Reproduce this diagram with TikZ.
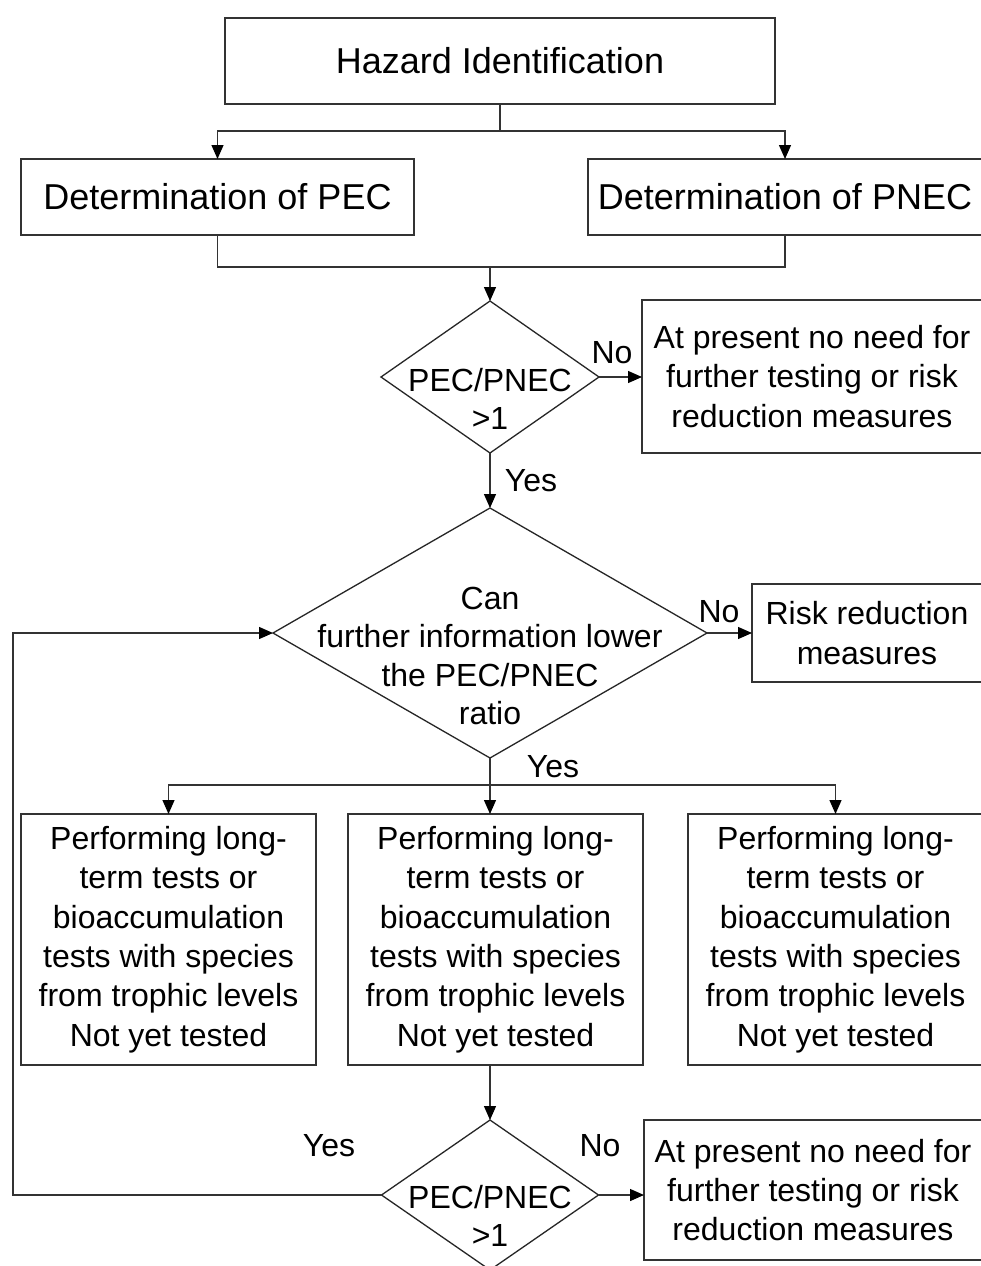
\documentclass[tikz,border=0pt]{standalone}
\usepackage{fontspec}
\setmainfont{Liberation Sans}
\usetikzlibrary{shapes.geometric,arrows.meta}
\begin{document}
\begin{tikzpicture}[x=1pt,y=-1pt,
  every node/.style={inner sep=0pt,outer sep=0pt},
  box/.style={draw=black!80,line width=1.3pt,rectangle,align=center,font=\fontsize{32}{39.3}\selectfont},
  bigbox/.style={box,font=\fontsize{36}{42}\selectfont},
  dia/.style={draw=black!85,line width=1.3pt,diamond,inner sep=0pt},
  dtext/.style={align=center,font=\fontsize{32}{38.5}\selectfont},
  lbl/.style={font=\fontsize{32}{38}\selectfont},
  conn/.style={draw=black!80,line width=1.3pt},
  arr/.style={conn,-{Triangle[length=14pt,width=12pt,color=black]}}]
\path[fill=white,use as bounding box] (0,0) rectangle (980,1266);
% boxes
\node[bigbox,minimum width=550pt,minimum height=86pt] (haz) at (500,61) {Hazard Identification};
\node[bigbox,minimum width=393pt,minimum height=76pt] (pec) at (217.5,197) {Determination of PEC};
\node[bigbox,minimum width=394pt,minimum height=76pt] (pnec) at (785,197) {Determination of PNEC};
\node[dia,minimum width=218pt,minimum height=152pt] (d1) at (490,377) {};
\node[dtext] (d1t) at (490,399) {PEC/PNEC\\>1};
\node[box,minimum width=340pt,minimum height=153pt] (nn1) at (812,376.5) {At present no need for\\further testing or risk\\reduction measures};
\node[dia,minimum width=434pt,minimum height=250pt] (d2) at (490,633) {};
\node[dtext] (d2t) at (490,656) {Can\\further information lower\\the PEC/PNEC\\ratio};
\node[box,minimum width=230pt,minimum height=98pt] (rr) at (867,633) {Risk reduction\\measures};
\node[box,minimum width=295pt,minimum height=251pt] (t1) at (168.5,939.5) {Performing long-\\term tests or\\bioaccumulation\\tests with species\\from trophic levels\\Not yet tested};
\node[box,minimum width=295pt,minimum height=251pt] (t2) at (495.5,939.5) {Performing long-\\term tests or\\bioaccumulation\\tests with species\\from trophic levels\\Not yet tested};
\node[box,minimum width=295pt,minimum height=251pt] (t3) at (835.5,939.5) {Performing long-\\term tests or\\bioaccumulation\\tests with species\\from trophic levels\\Not yet tested};
\node[dia,minimum width=217pt,minimum height=150pt] (d3) at (490,1195) {};
\node[dtext] (d3t) at (490,1216) {PEC/PNEC\\>1};
\node[box,minimum width=338pt,minimum height=140pt] (nn2) at (813,1190) {At present no need for\\further testing or risk\\reduction measures};
% labels
\node[lbl] (l1) at (612,353) {No};
\node[lbl] (l2) at (531,481) {Yes};
\node[lbl] (l3) at (719,612) {No};
\node[lbl] (l4) at (553,767) {Yes};
\node[lbl] (l5) at (329,1146) {Yes};
\node[lbl] (l6) at (600,1146) {No};
% connectors
\coordinate (j1) at (500,131);
\draw[conn] (haz.south) -- (j1);
\draw[arr] (j1) -| (pec.north);
\draw[arr] (j1) -| (pnec.north);
\coordinate (j2) at (490,267);
\draw[conn] (pec.south) |- (j2) -| (pnec.south);
\draw[arr] (j2) -- (d1.north);
\draw[arr] (d1.east) -- (d1.east -| nn1.west);
\draw[arr] (d1.south) -- (d2.north);
\draw[arr] (d2.east) -- (rr.west);
\coordinate (j3) at (490,785);
\draw[conn] (d2.south) -- (j3);
\draw[arr] (j3) -| (t1.north);
\draw[arr] (j3) -| (t3.north);
\draw[arr] (j3) -- (j3 |- t2.north);
\draw[arr] (d3.north |- t2.south) -- (d3.north);
\draw[arr] (d3.east) -- (d3.east -| nn2.west);
\coordinate (lb) at (13,1195);
\coordinate (lt) at (13,633);
\draw[arr] (d3.west) -- (lb) -- (lt) -- (d2.west);
\end{tikzpicture}
\end{document}
